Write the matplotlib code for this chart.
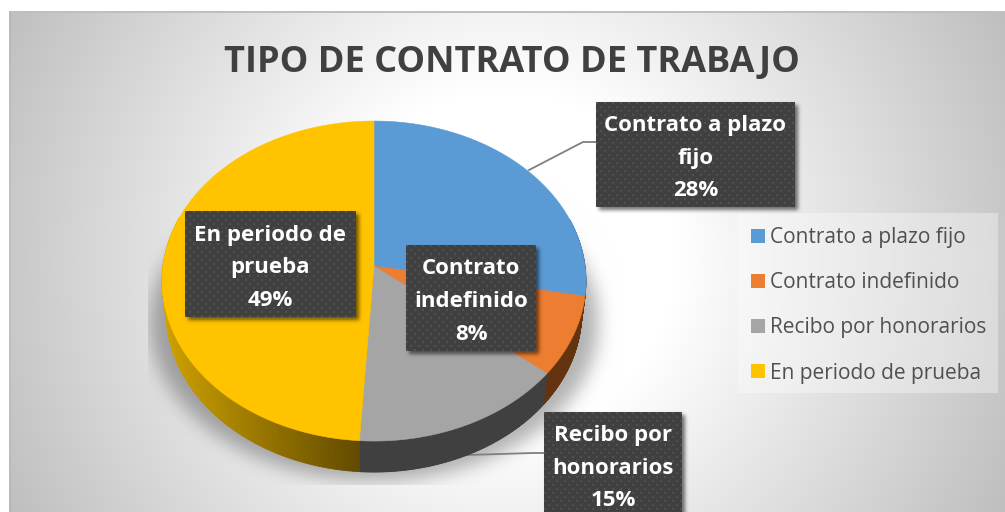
import matplotlib
matplotlib.use("Agg")
import matplotlib.pyplot as plt
from matplotlib.patches import Polygon, Rectangle
import numpy as np

plt.rcParams['font.family'] = ['Open Sans', 'DejaVu Sans']

title = 'TIPO DE CONTRATO DE TRABAJO'
categories = ['Contrato a plazo fijo', 'Contrato indefinido', 'Recibo por honorarios', 'En periodo de prueba']
values = [28, 8, 15, 49]
colors = ['#5B9BD5', '#ED7D31', '#A5A5A5', '#FFC300']
wall_colors = ['#2F5F8C', '#643410', '#404040', None]
label_lines = [['Contrato a plazo', 'fijo'], ['Contrato', 'indefinido'], ['Recibo por', 'honorarios'], ['En periodo de', 'prueba']]

W, H = 1005, 512
# label boxes x0,y0,x1,y1 in pixels
boxes = [(596, 102, 795, 207), (406, 245, 536, 351), (544, 412, 682, 530), (185, 211, 356, 317)]

fig = plt.figure(figsize=(W / 100, H / 100), dpi=100)
ax = fig.add_axes([0, 0, 1, 1])
ax.set_xlim(0, W)
ax.set_ylim(H, 0)
ax.axis('off')


def blur(a, sigma):
    k = np.exp(-0.5 * (np.arange(-3 * sigma, 3 * sigma + 1) / sigma) ** 2)
    k = k / k.sum()
    a = np.apply_along_axis(lambda r: np.convolve(r, k, mode='same'), 0, a)
    a = np.apply_along_axis(lambda r: np.convolve(r, k, mode='same'), 1, a)
    return a


# background: radial grey gradient plus the soft pie shadow
yy, xx = np.mgrid[0:H, 0:W]
r = np.hypot(xx - 505, yy - 260)
bg = np.clip(255 - (r - 170) * 0.166, 0, 255)
sh = (((xx - 374) / 224.0) ** 2 + ((yy - 322) / 158.0) ** 2 < 1).astype(float)
sh = blur(sh, 9)
sh[yy > 484] = 0
sh[xx < 148] = 0
bg = bg * (1 - 0.30 * sh)
img = np.dstack([bg, bg, bg]) / 255.0
img[:11, :] = 1
img[:, :9] = 1
img[11:13, 9:] = 0.75
img[11:, 9:11] = img[11:, 9:11] * 0.96
ax.imshow(img, extent=(0, W, H, 0), aspect='auto', zorder=0, interpolation='nearest')


# perspective view of the pie disc
def project(turn, depth=0.0):
    t = 2 * np.pi * np.asarray(turn)
    u, v = np.sin(t), np.cos(t)
    w = 1 + 0.094 * v
    x = 211 * u / w
    y = (160 * v + 15) / w
    s = 1 - 0.02 * (depth > 0)
    return 374 + x * s, 281 - y + depth


DEPTH = 31
edges = np.cumsum([0] + values) / sum(values)
apex = (374, 266)

# side wall
for i in range(4):
    ts = np.linspace(edges[i], edges[i + 1], 200)
    x0, y0 = project(ts)
    x1, y1 = project(ts, DEPTH)
    for j in range(len(ts) - 1):
        if not (0.2 < ts[j] < 0.8):
            continue
        if wall_colors[i] is None:
            f = np.clip((x0[j] - 161) / (365 - 161), 0, 1)
            c = (np.array([0xCF, 0xA2, 0x00]) * (1 - f) + np.array([0x60, 0x48, 0x00]) * f) / 255
        else:
            c = wall_colors[i]
        ax.add_patch(Polygon([(x0[j], y0[j]), (x0[j + 1], y0[j + 1]), (x1[j + 1], y1[j + 1]), (x1[j], y1[j])],
                             facecolor=c, edgecolor=c, lw=0.6, zorder=2))

# top face
for i in range(4):
    ts = np.linspace(edges[i], edges[i + 1], 200)
    x0, y0 = project(ts)
    pts = [apex] + list(zip(x0, y0))
    ax.add_patch(Polygon(pts, facecolor=colors[i], edgecolor=colors[i], lw=0.4, zorder=3))

# leader lines
ax.plot([529, 583, 596], [170, 142, 142], color='#7F7F7F', lw=1.3, zorder=4)
ax.plot([467, 532, 544], [455, 453, 453], color='#7F7F7F', lw=1.3, zorder=1.5)


# data label boxes with dotted texture and shadow
def label_box(box):
    x0, y0, x1, y1 = box
    pad = 14
    w, h = x1 - x0, y1 - y0
    a = np.zeros((h + 2 * pad, w + 2 * pad))
    a[pad + 3:pad + 3 + h, pad + 3:pad + 3 + w] = 1
    a = blur(a, 2) * 0.55
    rgba = np.zeros(a.shape + (4,))
    rgba[..., 3] = a
    ax.imshow(rgba, extent=(x0 - pad, x1 + pad, y1 + pad, y0 - pad), aspect='auto', zorder=5)
    tex = np.full((h, w, 3), 0x40 / 255.0)
    gy, gx = np.mgrid[0:h, 0:w]
    dots = (gy % 8 < 2) & (gx % 8 < 2) | ((gy + 4) % 8 < 2) & ((gx + 4) % 8 < 2)
    tex[dots] = 0x50 / 255.0
    ax.imshow(tex, extent=(x0, x1, y1, y0), aspect='auto', zorder=6, interpolation='nearest')


for i, box in enumerate(boxes):
    label_box(box)
    lines = label_lines[i] + ['%d%%' % values[i]]
    xc = (box[0] + box[2]) / 2
    y_top = box[1] + 24
    for j, line in enumerate(lines):
        ax.text(xc, y_top + j * 32.5, line, color='white', fontsize=16, fontweight='bold',
                ha='center', va='center', zorder=7)

ax.set_xlim(0, W)
ax.set_ylim(H, 0)

# title
ax.text(512, 63, title, color='#404040', fontsize=26, fontweight='bold', ha='center', va='center', zorder=7)

# legend
ax.add_patch(Rectangle((738, 213), 260, 180, facecolor='white', edgecolor='none', alpha=0.35, zorder=4))
leg_y = [236, 281, 326, 371]
for i, cat in enumerate(categories):
    ax.add_patch(Rectangle((751, leg_y[i] - 7), 14, 14, facecolor=colors[i], edgecolor='none', zorder=5))
    ax.text(770, leg_y[i] + 2, cat, color='#505050', fontsize=15, ha='left', va='center', zorder=5)

fig.savefig('out.png', dpi=100)
